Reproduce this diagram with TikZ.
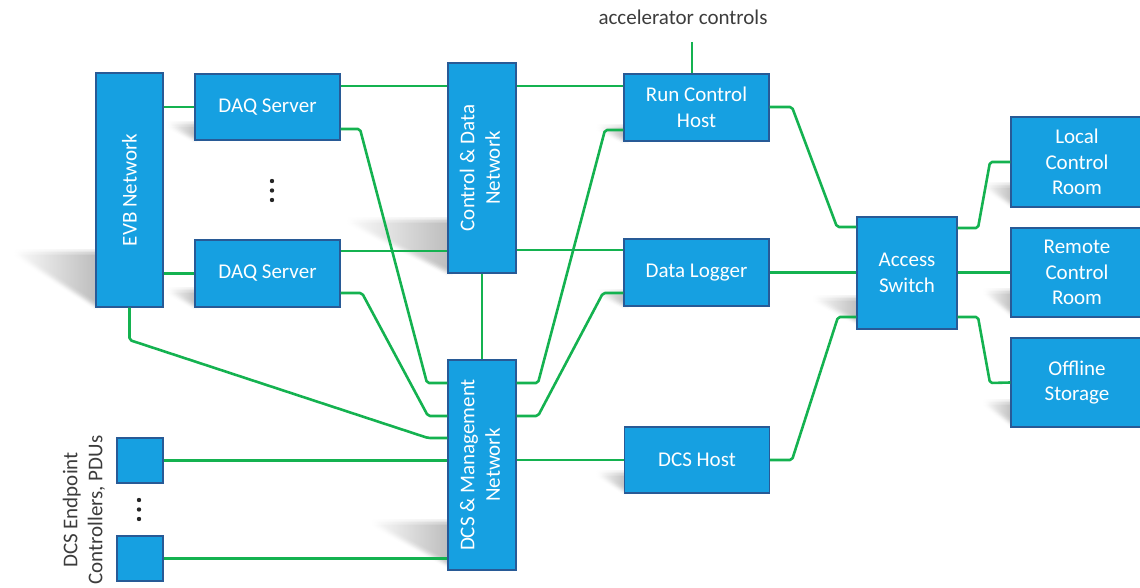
\documentclass[tikz,border=0pt]{standalone}
\usepackage{fontspec}
\setmainfont{Carlito}
\usepackage{graphicx}
\definecolor{boxfill}{RGB}{22,160,225}
\definecolor{boxline}{RGB}{40,90,150}
\definecolor{wiregreen}{RGB}{20,178,80}
\definecolor{lblgray}{RGB}{60,60,60}
\newcommand{\softshadow}[4]{%
  \foreach \dx in {-3,-1.5,0,1.5,3} {\foreach \dy in {-3,-1.5,0,1.5,3} {%
    \shade[left color=white, right color=black, fill opacity=0.012, draw=none]
      ([shift={(\dx,\dy)}]#1,#2) -- ([shift={(\dx,\dy)}]#3,#2) -- ([shift={(\dx,\dy)}]#3,#4) -- cycle;}}}
\begin{document}
\begin{tikzpicture}[x=1pt,y=-1pt,
  netbox/.style={draw=boxline, line width=1.1pt, fill=boxfill, text=white,
    font=\fontsize{21}{25.5}\selectfont, align=center, inner sep=0pt},
  wire/.style={draw=wiregreen, line width=2.6pt, rounded corners=2pt, line join=round},
  lbltext/.style={text=lblgray, font=\fontsize{21}{25}\selectfont, inner sep=0pt},
  dot/.style={fill=black!85}]
\useasboundingbox (0,0) rectangle (1140,588);

% shadows
\softshadow{13}{252}{98}{307}
\softshadow{166}{124}{197}{140}
\softshadow{166}{290}{197}{307}
\softshadow{345}{220}{450}{273}
\softshadow{370}{522}{450}{565}
\softshadow{596}{127}{626}{141}
\softshadow{596}{292}{626}{306}
\softshadow{596}{473}{627}{492}
\softshadow{812}{298}{859}{322}
\softshadow{983}{185}{1013}{205}
\softshadow{983}{291}{1013}{314}
\softshadow{983}{402}{1013}{424}

% nodes
\node[netbox, minimum width=67pt, minimum height=234pt] (evb) at (129.5,190) {\rotatebox{90}{EVB Network}};
\node[netbox, minimum width=145pt, minimum height=66pt] (daqa) at (267.5,107) {DAQ Server};
\node[netbox, minimum width=145pt, minimum height=67pt] (daqb) at (267.5,273.5) {DAQ Server};
\node[netbox, minimum width=68pt, minimum height=210pt] (cdn) at (482,168) {\rotatebox{90}{\begin{tabular}{@{}c@{}}Control \& Data\\Network\end{tabular}}};
\node[netbox, minimum width=68pt, minimum height=210pt] (dcsn) at (482,465) {\rotatebox{90}{\begin{tabular}{@{}c@{}}DCS \& Management\\Network\end{tabular}}};
\node[netbox, minimum width=145pt, minimum height=67pt] (rch) at (696.5,107.5) {Run Control\\Host};
\node[netbox, minimum width=145pt, minimum height=67pt] (dl) at (696.5,272.5) {Data Logger};
\node[netbox, minimum width=145pt, minimum height=66pt] (dcsh) at (697,460) {DCS Host};
\node[netbox, minimum width=100pt, minimum height=112pt] (as) at (907,273) {Access\\Switch};
\node[netbox, minimum width=132pt, minimum height=90pt] (lcr) at (1077,162) {Local\\Control\\Room};
\node[netbox, minimum width=132pt, minimum height=89pt] (rcr) at (1077,272.5) {Remote\\Control\\Room};
\node[netbox, minimum width=132pt, minimum height=89pt] (ost) at (1077,382.5) {Offline\\Storage};
\node[netbox, minimum width=46pt, minimum height=45pt] (epa) at (140,460.5) {};
\node[netbox, minimum width=46pt, minimum height=45pt] (epb) at (140,558.5) {};

\node[lbltext] (acctext) at (683,17) {accelerator controls};
\node[lbltext, rotate=90, align=center] (eplabel) at (84,510) {DCS Endpoint\\Controllers, PDUs};
\coordinate (accend) at (692,42);

% dots
\fill[dot] (272,181) circle (2.2pt);
\fill[dot] (272,190.5) circle (2.2pt);
\fill[dot] (272,200) circle (2.2pt);
\fill[dot] (139,500) circle (2.2pt);
\fill[dot] (139,509.5) circle (2.2pt);
\fill[dot] (139,519) circle (2.2pt);

% connectors
\draw[wire] (accend) -- (accend |- rch.north);
\draw[wire] (daqa.west -| evb.east) -- (daqa.west);
\draw[wire] (daqb.west -| evb.east) -- (daqb.west);
\draw[wire] (daqa.east |- 0,86) -- (cdn.west |- 0,86);
\draw[wire] (cdn.east |- 0,86) -- (rch.west |- 0,86);
\draw[wire] (daqb.east |- 0,251) -- (cdn.west |- 0,251);
\draw[wire] (cdn.east |- 0,250) -- (dl.west |- 0,250);
\draw[wire] (cdn.south) -- (dcsn.north);
\draw[wire] (daqa.east |- 0,129) -- (360,129) -- (427,383) -- (dcsn.west |- 0,383);
\draw[wire] (daqb.east |- 0,293) -- (362,293) -- (428,416) -- (dcsn.west |- 0,416);
\draw[wire] (evb.south) -- (evb.south |- 0,340) -- (428,438) -- (dcsn.west |- 0,438);
\draw[wire] (epa.east) -- (epa.east -| dcsn.west);
\draw[wire] (epb.east) -- (epb.east -| dcsn.west);
\draw[wire] (dcsh.west -| dcsn.east) -- (dcsh.west);
\draw[wire] (dcsn.east |- 0,383) -- (538,383) -- (605,130) -- (rch.west |- 0,130);
\draw[wire] (dcsn.east |- 0,416) -- (538,416) -- (603,293) -- (dl.west |- 0,293);
\draw[wire] (rch.east |- 0,107) -- (792,107) -- (837,227) -- (as.west |- 0,227);
\draw[wire] (dl.east) -- (dl.east -| as.west);
\draw[wire] (dcsh.east) -- (792,460) -- (838,317) -- (as.west |- 0,317);
\draw[wire] (as.east |- 0,228) -- (978,228) -- (990,162) -- (lcr.west);
\draw[wire] (rcr.west -| as.east) -- (rcr.west);
\draw[wire] (as.east |- 0,317) -- (978,317) -- (990,383) -- (ost.west);
\end{tikzpicture}
\end{document}
